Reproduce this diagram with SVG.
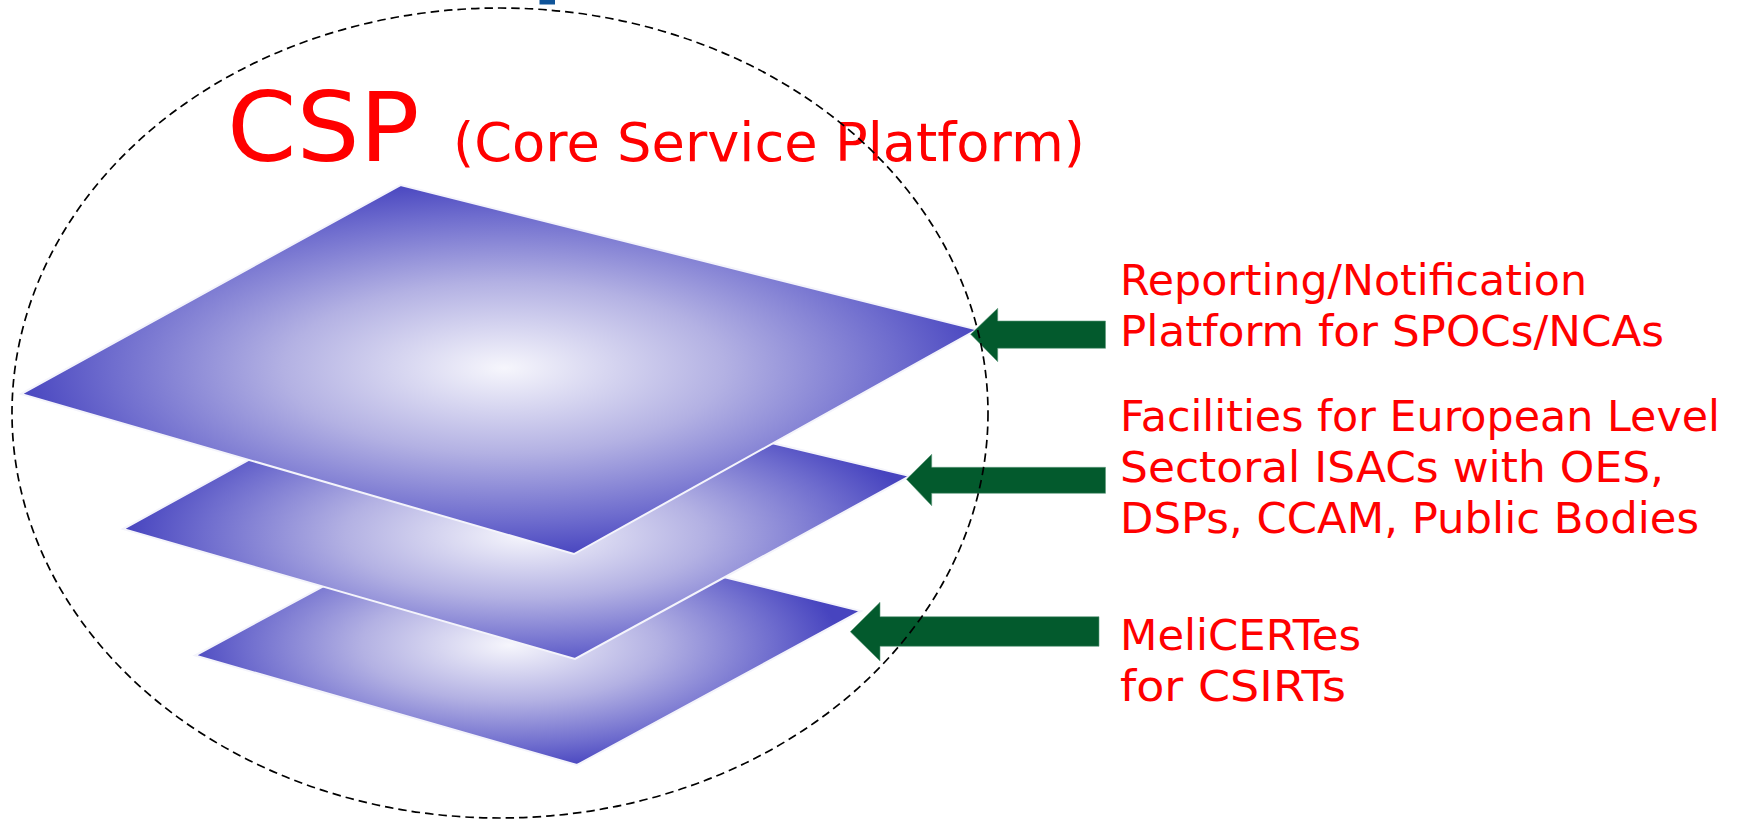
<svg xmlns="http://www.w3.org/2000/svg" width="1739" height="819" viewBox="0 0 1739 819">
<style>
text{font-family:"DejaVu Sans",Verdana,sans-serif;fill:#ff0000}
.lbl{font-size:42.5px}
.plane{stroke:#f4f4fb;stroke-width:2;stroke-linejoin:miter}
.arrow{fill:#035a2d;stroke:#5f9a7c;stroke-width:.6}
</style>
<defs>
<radialGradient id="g1" gradientUnits="userSpaceOnUse" cx="0" cy="0" r="1" gradientTransform="translate(504 368) scale(490 190)">
<stop offset="0" stop-color="#f6f6fc"/><stop offset=".45" stop-color="#b3b1e3"/><stop offset=".8" stop-color="#6f6dce"/><stop offset="1" stop-color="#4744bf"/></radialGradient>
<radialGradient id="g2" gradientUnits="userSpaceOnUse" cx="0" cy="0" r="1" gradientTransform="translate(525 535) scale(400 140)">
<stop offset="0" stop-color="#f6f6fc"/><stop offset=".45" stop-color="#b3b1e3"/><stop offset=".8" stop-color="#6f6dce"/><stop offset="1" stop-color="#4744bf"/></radialGradient>
<radialGradient id="g3" gradientUnits="userSpaceOnUse" cx="0" cy="0" r="1" gradientTransform="translate(510 645) scale(330 125)">
<stop offset="0" stop-color="#f6f6fc"/><stop offset=".45" stop-color="#b3b1e3"/><stop offset=".8" stop-color="#6f6dce"/><stop offset="1" stop-color="#4744bf"/></radialGradient>
</defs>
<rect width="1739" height="819" fill="#ffffff"/>
<rect x="539.5" y="0" width="15.500" height="4.500" fill="#0f5499"/>
<g id="plane-melicertes"><polygon class="plane" fill="url(#g3)" points="195,655.500 461,512 861,611 577,765"/></g>
<g id="plane-facilities"><polygon class="plane" fill="url(#g2)" points="123,529 429,361 910,476 575,659"/></g>
<g id="plane-reporting"><polygon class="plane" fill="url(#g1)" points="21,394 400.500,185 977,329.500 574,554"/></g>
<g id="connectors">
<polygon class="arrow" points="970.700,334.300 997.700,308.300 997.700,321 1105.500,321 1105.500,348.300 997.700,348.300 997.700,361.700"/>
<polygon class="arrow" points="906.500,479.300 931.700,454.300 931.700,467.300 1105.500,467.300 1105.500,493.300 931.700,493.300 931.700,505.700"/>
<polygon class="arrow" points="850.300,631.700 880,602.300 880,616.700 1099,616.700 1099,646.300 880,646.300 880,661"/>
</g>
<g id="title">
<text x="227" y="160.700" font-size="96" textLength="192.500" lengthAdjust="spacingAndGlyphs">CSP</text>
<text x="453" y="160.700" font-size="54" textLength="632" lengthAdjust="spacingAndGlyphs">(Core Service Platform)</text>
</g>
<g id="boundary"><ellipse cx="500" cy="413" rx="488" ry="405" fill="none" stroke="#000000" stroke-width="1.700" stroke-dasharray="8.500 5"/></g>
<g id="label-reporting"><text class="lbl" x="1120" y="295" textLength="467" lengthAdjust="spacingAndGlyphs">Reporting/Notification</text><text class="lbl" x="1120" y="345.700" textLength="544" lengthAdjust="spacingAndGlyphs">Platform for SPOCs/NCAs</text></g>
<g id="label-facilities"><text class="lbl" x="1120" y="431.200" textLength="600" lengthAdjust="spacingAndGlyphs">Facilities for European Level</text><text class="lbl" x="1120" y="482.200" textLength="544" lengthAdjust="spacingAndGlyphs">Sectoral ISACs with OES,</text><text class="lbl" x="1120" y="533.200" textLength="579" lengthAdjust="spacingAndGlyphs">DSPs, CCAM, Public Bodies</text></g>
<g id="label-melicertes"><text class="lbl" x="1120" y="650" textLength="241" lengthAdjust="spacingAndGlyphs">MeliCERTes</text><text class="lbl" x="1120" y="700.700" textLength="226" lengthAdjust="spacingAndGlyphs">for CSIRTs</text></g>
</svg>
